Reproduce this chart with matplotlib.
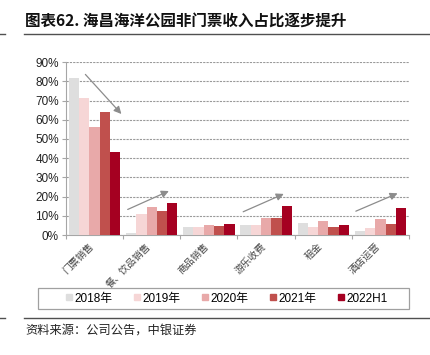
import numpy as np
import matplotlib.pyplot as plt
from matplotlib.lines import Line2D
from matplotlib.patches import Rectangle

plt.rcParams['font.family'] = ['Liberation Sans', 'Noto Sans CJK SC', 'DejaVu Sans']

categories = ['门票销售', '餐、饮品销售', '商品销售', '游乐收费', '租金', '酒店运营']
series = ['2018年', '2019年', '2020年', '2021年', '2022H1']
v2018 = [81.6, 1.0, 4.2, 5.4, 6.2, 1.9]
v2019 = [71.2, 10.9, 4.2, 5.4, 4.2, 3.6]
v2020 = [56.1, 14.8, 5.2, 8.9, 7.5, 8.2]
v2021 = [63.9, 12.5, 4.7, 9.0, 4.2, 5.9]
v2022 = [43.2, 16.7, 5.6, 15.3, 5.2, 14.2]
colors = ['#dedede', '#f6d6d6', '#e8a9a9', '#c0504d', '#a50021']

# trend arrows (start x, start y, end x, end y) in data units
arrows = [(-0.16, 83.6, 0.47, 63.0),
          (0.58, 13.3, 1.30, 22.9),
          (2.60, 12.1, 3.31, 21.4),
          (4.57, 12.4, 5.30, 21.7)]

fig = plt.figure(figsize=(4.31, 3.55), dpi=100)
ax = fig.add_axes([0.153, 0.338, 0.796, 0.487])

x = np.arange(len(categories))
w = 0.18
allvals = [v2018, v2019, v2020, v2021, v2022]
for i, (vals, c) in enumerate(zip(allvals, colors)):
    ax.bar(x + (i - 2) * w, vals, w, color=c, zorder=3)

for x0, y0, x1, y1 in arrows:
    ax.annotate('', xy=(x1, y1), xytext=(x0, y0),
                arrowprops=dict(arrowstyle='-|>', color='#8c8c8c', lw=0.9,
                                mutation_scale=11, shrinkA=0, shrinkB=0), zorder=4)

ax.set_xlim(-0.5, len(categories) - 0.5)
ax.set_ylim(0, 90)
ax.set_yticks(np.arange(0, 91, 10))
ax.set_yticklabels(['%d%%' % v for v in range(0, 91, 10)], fontsize=8.5, color='#222222')
ax.yaxis.grid(True, color='#9a9a9a', lw=0.8, ls=(0, (2, 1)), zorder=0)

ax.set_xticks(np.arange(-0.5, len(categories), 1))
ax.set_xticklabels([])
ax.tick_params(axis='x', length=3, color='#a6a6a6')
ax.tick_params(axis='y', length=3, color='#a6a6a6', pad=2)
for i, cat in enumerate(categories):
    ax.text(i - 0.1, -3, cat, rotation=45, ha='right', va='top', fontsize=7,
            rotation_mode='anchor', family=['Noto Sans CJK SC'], color='#444444',
            transform=ax.transData)

for s in ['top', 'right']:
    ax.spines[s].set_visible(False)
ax.spines['left'].set_color('#a6a6a6')
ax.spines['bottom'].set_color('#a6a6a6')

# legend inside a wide box
ax.add_patch(Rectangle((0.088, 0.130), 0.861, 0.059, transform=fig.transFigure,
                       fill=False, edgecolor='#a0a0a0', lw=0.9, clip_on=False))
handles = [Line2D([], [], marker='s', ls='', color=c, markersize=5) for c in colors]
leg = fig.legend(handles, series, loc='center', bbox_to_anchor=(0.525, 0.159),
                 ncol=5, frameon=False, handlelength=0.7, handletextpad=0.1,
                 columnspacing=1.75,
                 prop={'family': ['Liberation Sans', 'Noto Sans CJK SC'], 'size': 8.5})

# title and rules
fig.text(0.058, 0.94, '图表62. 海昌海洋公园非门票收入占比逐步提升', fontsize=11.2,
         fontweight='bold', family=['Noto Sans CJK SC'], va='center', color='#111111')
rule = '#505050'
fig.add_artist(Line2D([0.056, 1.0], [0.905, 0.905], color=rule, lw=1.0))
fig.add_artist(Line2D([0.0, 0.012], [0.905, 0.905], color=rule, lw=1.0))
fig.add_artist(Line2D([0.056, 1.0], [0.104, 0.104], color=rule, lw=1.0))
fig.add_artist(Line2D([0.0, 0.012], [0.104, 0.104], color=rule, lw=1.0))
fig.text(0.058, 0.07, '资料来源：公司公告，中银证券', fontsize=8.8,
         family=['Noto Sans CJK SC'], va='center', color='#222222')

fig.savefig('out.png', dpi=100)
